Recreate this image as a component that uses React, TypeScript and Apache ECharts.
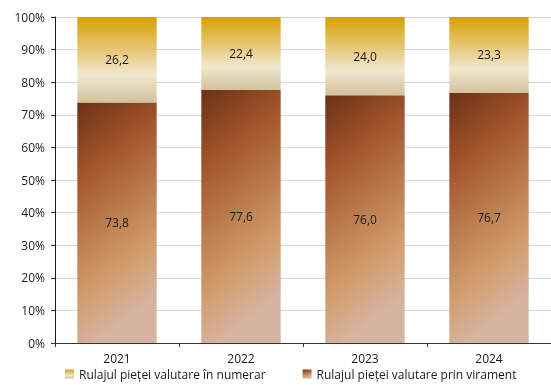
import React, { useEffect, useRef } from "react";
import * as echarts from "echarts";

const categories = ["2021", "2022", "2023", "2024"];
const cashValues = [26.2, 22.4, 24.0, 23.3];
const transferValues = [73.8, 77.6, 76.0, 76.7];
const seriesNames = [
  "Rulajul pieței valutare în numerar",
  "Rulajul pieței valutare prin virament",
];

const FONT = "Open Sans";

export default function App() {
  const ref = useRef<HTMLDivElement>(null);
  useEffect(() => {
    if (!ref.current) return;
    const chart = echarts.init(ref.current, null, { renderer: "svg" });
    const brown = new echarts.graphic.LinearGradient(0, 0, 0.25, 1, [
      { offset: 0, color: "#6a3117" },
      { offset: 0.3, color: "#a4552b" },
      { offset: 0.55, color: "#bb7c4e" },
      { offset: 0.78, color: "#d29d6c" },
      { offset: 1, color: "#d6b4a2" },
    ]);
    const gold = new echarts.graphic.LinearGradient(0, 0, 0, 1, [
      { offset: 0, color: "#d6a003" },
      { offset: 0.35, color: "#e6c36a" },
      { offset: 0.68, color: "#efe7cf" },
      { offset: 1, color: "#d3c29d" },
    ]);
    const label = {
      show: true,
      position: "inside" as const,
      color: "#1a1a1a",
      fontFamily: FONT,
      fontSize: 12,
      formatter: (p: any) => Number(p.value).toFixed(1).replace(".", ","),
    };
    chart.setOption({
      animation: false,
      grid: { left: 55, right: 0, top: 17, bottom: 42, containLabel: false },
      legend: {
        top: 365,
        left: 60,
        itemWidth: 9,
        itemHeight: 9,
        itemGap: 37,
        icon: "rect",
        padding: [2, 5, 2, 5],
        textStyle: { fontFamily: FONT, fontSize: 12, color: "#1a1a1a", lineHeight: 14 },
        data: [seriesNames[0], seriesNames[1]],
      },
      xAxis: {
        type: "category",
        data: categories,
        axisLine: { show: true, lineStyle: { color: "#333", width: 1 } },
        axisTick: { show: true, alignWithLabel: false, length: 4, lineStyle: { color: "#333" } },
        axisLabel: { fontFamily: FONT, fontSize: 12, color: "#1a1a1a", margin: 9 },
      },
      yAxis: {
        type: "value",
        min: 0,
        max: 100,
        interval: 10,
        axisLine: { show: true, lineStyle: { color: "#1a1a1a", width: 1 } },
        axisTick: { show: true, length: 4, lineStyle: { color: "#333" } },
        axisLabel: {
          formatter: "{value}%",
          fontFamily: FONT,
          fontSize: 12,
          color: "#1a1a1a",
          margin: 10,
        },
        splitLine: { show: true, lineStyle: { color: "#d9d9d9", width: 1 } },
      },
      series: [
        {
          name: seriesNames[1],
          type: "bar",
          stack: "total",
          barWidth: "64%",
          data: transferValues,
          itemStyle: { color: brown },
          label,
        },
        {
          name: seriesNames[0],
          type: "bar",
          stack: "total",
          barWidth: "64%",
          data: cashValues,
          itemStyle: { color: gold },
          label,
        },
      ],
    });
    return () => chart.dispose();
  }, []);
  return (
    <div
      ref={ref}
      style={{ position: "fixed", left: 0, top: 0, width: 551, height: 385 }}
    />
  );
}
